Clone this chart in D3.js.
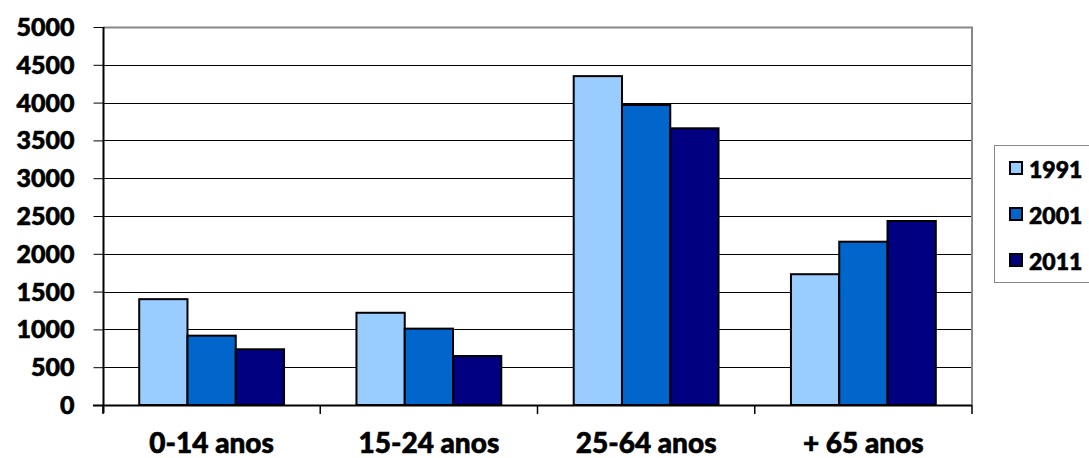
<!DOCTYPE html>
<html><head><meta charset="utf-8">
<script src="https://cdn.jsdelivr.net/npm/d3@7"></script>
<style>
html,body{margin:0;padding:0;background:#fff;}
svg{display:block;}
text{font-family:Lato,"Open Sans",sans-serif;font-weight:900;fill:#000;stroke:#000;stroke-width:0.6px;}
</style></head>
<body>
<svg id="chart" width="1089" height="458"></svg>
<script>
const categories = ["0-14 anos", "15-24 anos", "25-64 anos", "+ 65 anos"];
const seriesNames = ["1991", "2001", "2011"];
const values1991 = [1400, 1220, 4350, 1730];
const values2001 = [917, 1010, 3968, 2160];
const values2011 = [737, 648, 3660, 2434];
const yTicks = [0, 500, 1000, 1500, 2000, 2500, 3000, 3500, 4000, 4500, 5000];
const colors = ["#99CCFF", "#0066CC", "#000080"];

const series = [values1991, values2001, values2011];
const svg = d3.select("#chart");
const L = 103, R = 972, T = 27, B = 405;

const x = d3.scaleBand().domain(categories).range([L, R]).paddingInner(0).paddingOuter(0);
const y = d3.scaleLinear().domain([0, 5000]).range([B, T]);
// Excel gap width 150%: bar width = band / 4.5
const barW = x.bandwidth() / 4.5;

// gridlines
svg.append("g").selectAll("line").data(yTicks.filter(d => d > 0 && d < 5000)).join("line")
  .attr("x1", L).attr("x2", R)
  .attr("y1", d => Math.round(y(d)) + 0.5).attr("y2", d => Math.round(y(d)) + 0.5)
  .attr("stroke", "#000").attr("stroke-width", 1);

// plot border (top, right)
svg.append("path")
  .attr("d", `M${L},${Math.round(T)+0.5}H${R}V${B}`)
  .attr("fill", "none").attr("stroke", "#888").attr("stroke-width", 2);

// bars
const g = svg.append("g");
categories.forEach((c, i) => {
  series.forEach((s, j) => {
    const x0 = x(c) + x.bandwidth() / 2 - 1.5 * barW + j * barW;
    g.append("rect")
      .attr("x", x0).attr("y", y(s[i]))
      .attr("width", barW).attr("height", y(0) - y(s[i]))
      .attr("fill", colors[j]).attr("stroke", "#000").attr("stroke-width", 2);
  });
});

// y axis
const yAxis = d3.axisLeft(y).tickValues(yTicks).tickSize(10).tickPadding(19).tickFormat(d3.format("d"));
const ya = svg.append("g").attr("transform", `translate(${L + 0.5},0)`).call(yAxis);
ya.attr("font-family", null).attr("font-size", null);
ya.select(".domain").attr("stroke", "#000").attr("stroke-width", 2).attr("d", `M0,${T}V${B+8}`);
ya.selectAll(".tick line").attr("stroke", "#000").attr("stroke-width", 1);
ya.selectAll(".tick text").style("font-size", "25px").attr("fill", "#000").attr("dy", "0.34em");

// x axis
const xa = svg.append("g").attr("transform", `translate(0,${B})`);
xa.append("line").attr("x1", L - 10).attr("x2", R).attr("y1", 0.5).attr("y2", 0.5)
  .attr("stroke", "#000").attr("stroke-width", 2);
const bounds = categories.map(c => x(c)).concat([R]);
xa.selectAll("line.tk").data(bounds).join("line").attr("class", "tk")
  .attr("x1", d => d).attr("x2", d => d).attr("y1", 0).attr("y2", 9)
  .attr("stroke", "#000").attr("stroke-width", 1.5);
xa.selectAll("text.cat").data(categories).join("text").attr("class", "cat")
  .attr("x", d => x(d) + x.bandwidth() / 2).attr("y", 48)
  .attr("text-anchor", "middle").style("font-size", "28px").text(d => d);

// legend
const lg = svg.append("g");
lg.append("rect").attr("x", 994.5).attr("y", 145.5).attr("width", 120).attr("height", 137)
  .attr("fill", "#fff").attr("stroke", "#888").attr("stroke-width", 1);
seriesNames.forEach((n, j) => {
  const cy = 168 + j * 46;
  lg.append("rect").attr("x", 1010).attr("y", cy - 6).attr("width", 12).attr("height", 12)
    .attr("fill", colors[j]).attr("stroke", "#000").attr("stroke-width", 2);
  lg.append("text").attr("x", 1029).attr("y", cy + 9.5).style("font-size", "23px").text(n);
});
</script>
</body></html>
